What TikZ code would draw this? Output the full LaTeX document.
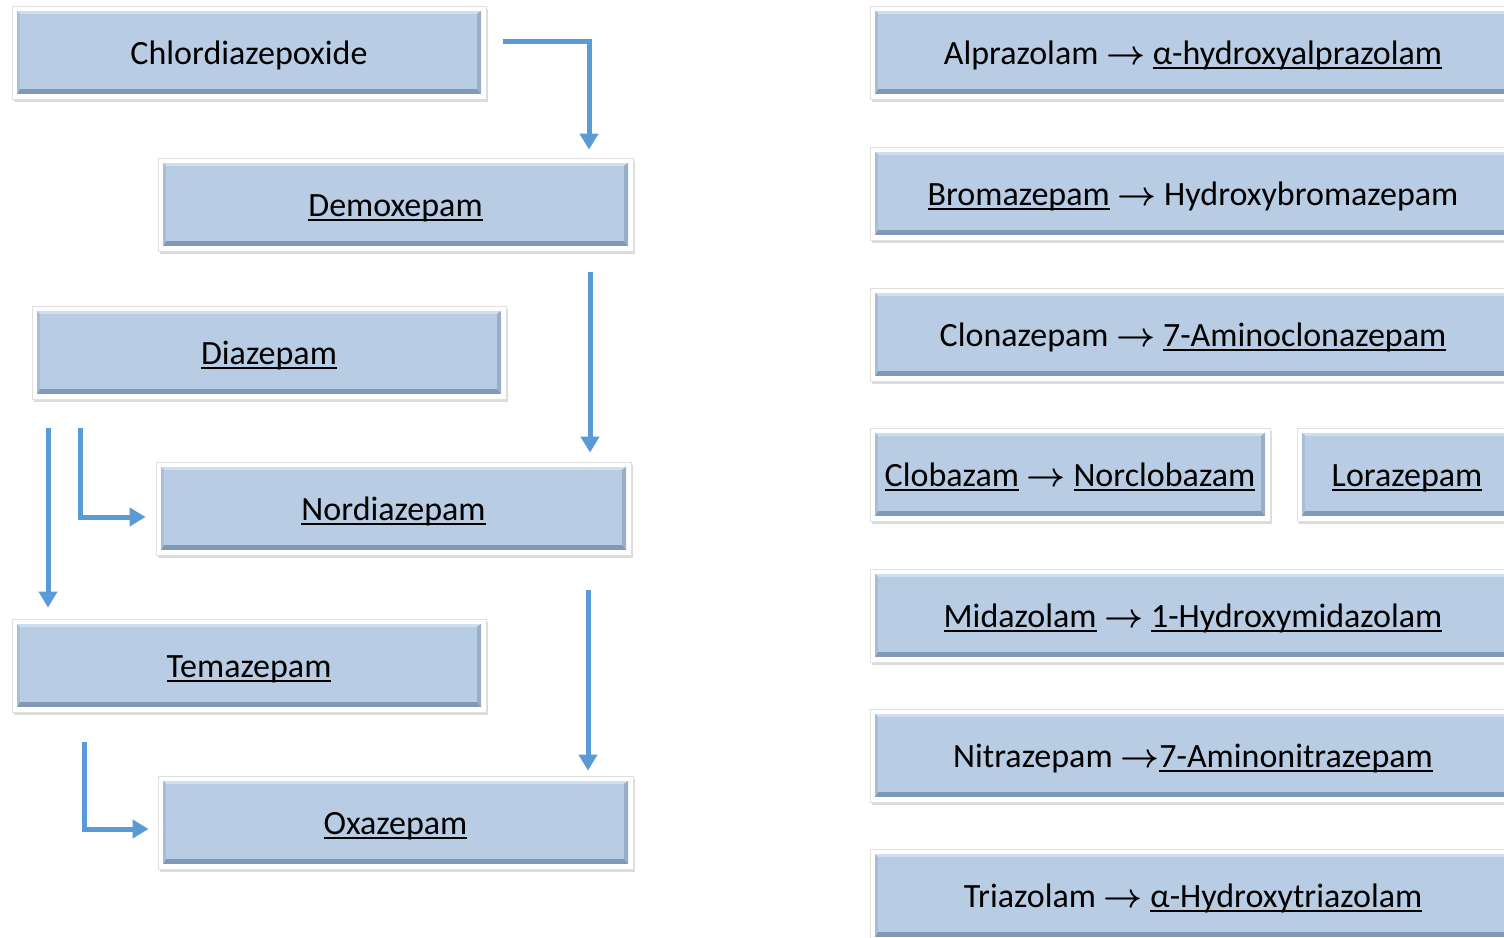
\RequirePackage{fix-cm}
\documentclass[tikz,border=0pt]{standalone}
\usepackage{fontspec}
\setmainfont{Carlito}
\usetikzlibrary{arrows.meta}
\usetikzlibrary{shadows}
\usetikzlibrary{positioning}
\definecolor{boxblue}{HTML}{B8CCE4}
\definecolor{boxtop}{HTML}{CFDEF0}
\definecolor{boxleft}{HTML}{A7BDD8}
\definecolor{boxright}{HTML}{98AFCC}
\definecolor{boxbottom}{HTML}{8199B8}
\definecolor{flowblue}{HTML}{5B9BD5}
\newcommand\ul[1]{\setbox0\hbox{#1}\rlap{\rule[-4.5pt]{\wd0}{1.8pt}}\box0\relax}
\newcommand\ra{{\boldmath$\rightarrow$}}
\tikzset{
  drug/.style={rectangle, minimum width=#1, minimum height=93pt, inner sep=0pt,
    text height=30pt, text depth=7pt,
    fill=white, draw=black!12, line width=0.8pt,
    drop shadow={shadow xshift=1.5pt, shadow yshift=-3pt, opacity=0.3, fill=black!45},
    font=\fontsize{34}{40}\selectfont,
    path picture={
      \fill[boxbottom] ([shift={(5pt,5pt)}]path picture bounding box.south west) rectangle ([shift={(-5pt,-5pt)}]path picture bounding box.north east);
      \fill[boxtop] ([shift={(5pt,-5pt)}]path picture bounding box.north west) -- ([shift={(-5pt,-5pt)}]path picture bounding box.north east) -- ([shift={(-9pt,-8pt)}]path picture bounding box.north east) -- ([shift={(8pt,-8pt)}]path picture bounding box.north west) -- cycle;
      \fill[boxleft] ([shift={(5pt,5pt)}]path picture bounding box.south west) -- ([shift={(5pt,-5pt)}]path picture bounding box.north west) -- ([shift={(8pt,-8pt)}]path picture bounding box.north west) -- ([shift={(8pt,10pt)}]path picture bounding box.south west) -- cycle;
      \fill[boxright] ([shift={(-5pt,5pt)}]path picture bounding box.south east) -- ([shift={(-5pt,-5pt)}]path picture bounding box.north east) -- ([shift={(-9pt,-8pt)}]path picture bounding box.north east) -- ([shift={(-9pt,10pt)}]path picture bounding box.south east) -- cycle;
      \fill[boxblue] ([shift={(8pt,10pt)}]path picture bounding box.south west) rectangle ([shift={(-9pt,-8pt)}]path picture bounding box.north east);
    }},
  drug/.default=474pt,
  flow/.style={draw=flowblue, line width=5pt, -{Triangle[width=18pt,length=16pt]}}
}
\begin{document}
\begin{tikzpicture}[x=1pt, y=-1pt]
  \clip (0,0) rectangle (1504,937);
  \fill[white] (0,0) rectangle (1504,937);
  \node[drug] (chlor) at (249,52.5) {Chlordiazepoxide};
  \node[drug=475pt] (demox) at (395.5,204.5) {\ul{Demoxepam}};
  \node[drug] (diaz) at (269,352.5) {\ul{Diazepam}};
  \node[drug=475pt] (nordiaz) at (393.5,508.5) {\ul{Nordiazepam}};
  \node[drug] (temaz) at (249,665.5) {\ul{Temazepam}};
  \node[drug=475pt] (oxaz) at (395.5,822.5) {\ul{Oxazepam}};
  \draw[flow] ([shift={(17,-11.5)}]chlor.east) -| ([shift={(193.5,-8)}]demox.north);
  \draw[flow] ([shift={(194.5,21)}]demox.south) -- ([shift={(196.5,-9)}]nordiaz.north);
  \draw[flow] ([shift={(-221,29)}]diaz.south) -- ([shift={(-201,-11)}]temaz.north);
  \draw[flow] ([shift={(-189,29)}]diaz.south) |- ([shift={(-10,8.5)}]nordiaz.west);
  \draw[flow] ([shift={(194.5,35)}]nordiaz.south) -- ([shift={(192.5,-5)}]oxaz.north);
  \draw[flow] ([shift={(-165,30)}]temaz.south) |- ([shift={(-9,6.5)}]oxaz.west);
  \foreach \n/\y/\txt in {alpraz/52.5/{Alprazolam \ra{} \ul{α-hydroxyalprazolam}},
      bromaz/193.5/{\ul{Bromazepam} \ra{} Hydroxybromazepam},
      clonaz/334.5/{Clonazepam \ra{} \ul{7-Aminoclonazepam}},
      midaz/615.5/{\ul{Midazolam} \ra{} \ul{1-Hydroxymidazolam}},
      nitraz/755.5/{Nitrazepam \ra\ul{7-Aminonitrazepam}},
      triaz/895.5/{Triazolam \ra{} \ul{α-Hydroxytriazolam}}} {
    \node[drug=646pt] (\n) at (1193,\y) {\txt};
  }
  \node[drug=400pt] (clobaz) at (1070,474.5) {\ul{Clobazam} \ra{} \ul{Norclobazam}};
  \node[drug=220pt] (loraz) at (1407,474.5) {\ul{Lorazepam}};
\end{tikzpicture}
\end{document}
